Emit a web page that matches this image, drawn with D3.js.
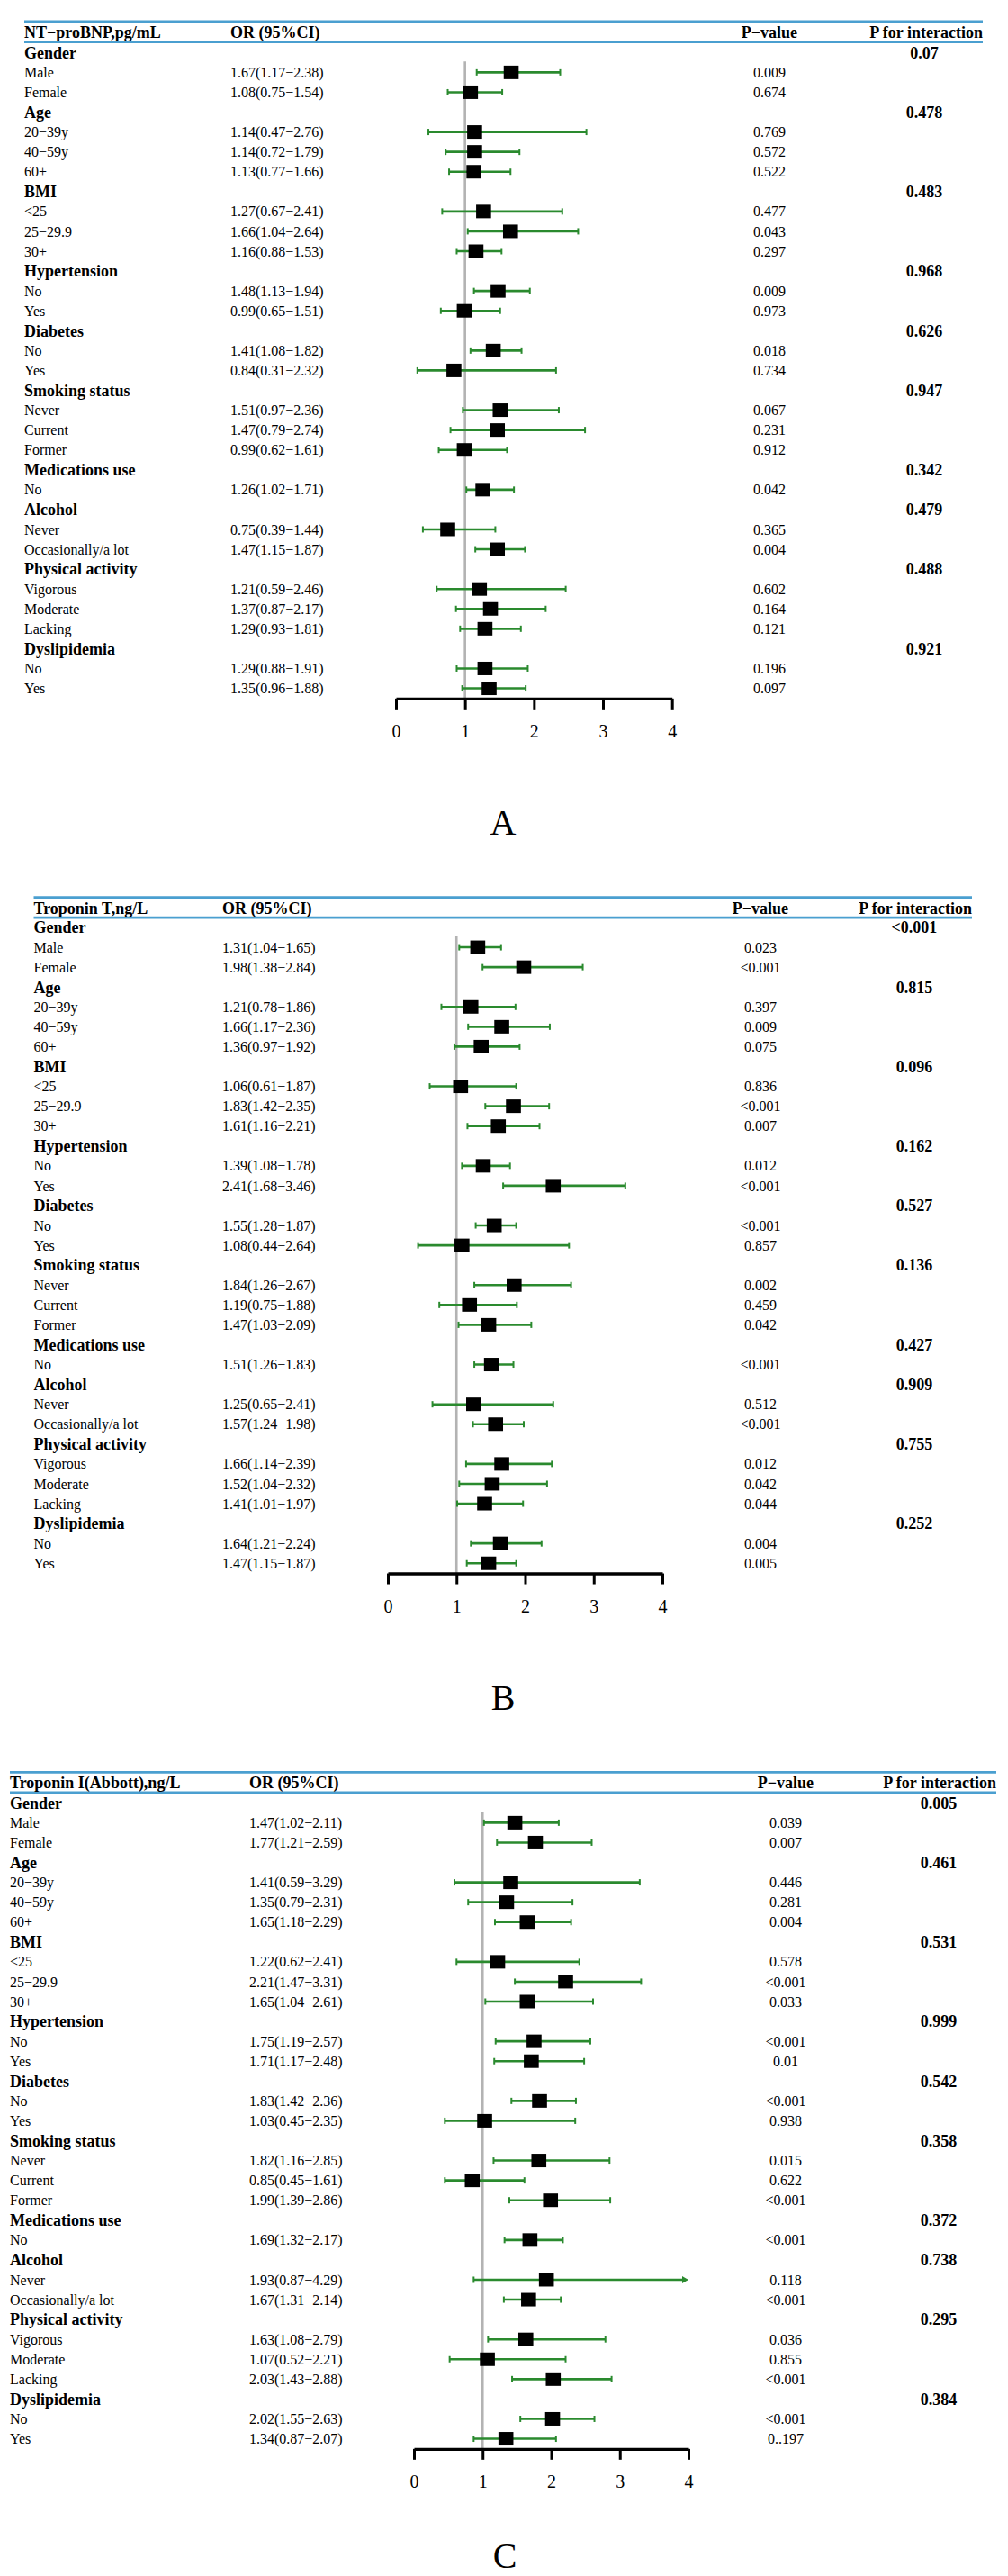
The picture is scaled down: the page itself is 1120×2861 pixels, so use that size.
<!DOCTYPE html>
<html>
<head>
<meta charset="utf-8">
<script src="https://cdn.jsdelivr.net/npm/d3@7"></script>
<style>
  html, body { margin: 0; padding: 0; background: #fff; }
  svg { display: block; }
  text { font-family: "Liberation Serif", "Times New Roman", serif; fill: #000; }
</style>
</head>
<body>
<svg id="chart" width="1120" height="2861"></svg>
<script>
// ---------------- DATA ----------------
const groups = ["Gender", "Age", "BMI", "Hypertension", "Diabetes", "Smoking status",
  "Medications use", "Alcohol", "Physical activity", "Dyslipidemia"];
const subgroups = [
  ["Male", "Female"],
  ["20\u221239y", "40\u221259y", "60+"],
  ["<25", "25\u221229.9", "30+"],
  ["No", "Yes"],
  ["No", "Yes"],
  ["Never", "Current", "Former"],
  ["No"],
  ["Never", "Occasionally/a lot"],
  ["Vigorous", "Moderate", "Lacking"],
  ["No", "Yes"]
];
const titles = ["NT\u2212proBNP,pg/mL", "Troponin T,ng/L", "Troponin I(Abbott),ng/L"];
const panelLetters = ["A", "B", "C"];
const axisTicks = [0, 1, 2, 3, 4];

// NT-proBNP
const ntOR   = [1.67,1.08, 1.14,1.14,1.13, 1.27,1.66,1.16, 1.48,0.99, 1.41,0.84, 1.51,1.47,0.99, 1.26, 0.75,1.47, 1.21,1.37,1.29, 1.29,1.35];
const ntLow  = [1.17,0.75, 0.47,0.72,0.77, 0.67,1.04,0.88, 1.13,0.65, 1.08,0.31, 0.97,0.79,0.62, 1.02, 0.39,1.15, 0.59,0.87,0.93, 0.88,0.96];
const ntHigh = [2.38,1.54, 2.76,1.79,1.66, 2.41,2.64,1.53, 1.94,1.51, 1.82,2.32, 2.36,2.74,1.61, 1.71, 1.44,1.87, 2.46,2.17,1.81, 1.91,1.88];
const ntP    = ["0.009","0.674","0.769","0.572","0.522","0.477","0.043","0.297","0.009","0.973","0.018","0.734","0.067","0.231","0.912","0.042","0.365","0.004","0.602","0.164","0.121","0.196","0.097"];
const ntPint = ["0.07","0.478","0.483","0.968","0.626","0.947","0.342","0.479","0.488","0.921"];

// Troponin T
const tntOR   = [1.31,1.98, 1.21,1.66,1.36, 1.06,1.83,1.61, 1.39,2.41, 1.55,1.08, 1.84,1.19,1.47, 1.51, 1.25,1.57, 1.66,1.52,1.41, 1.64,1.47];
const tntLow  = [1.04,1.38, 0.78,1.17,0.97, 0.61,1.42,1.16, 1.08,1.68, 1.28,0.44, 1.26,0.75,1.03, 1.26, 0.65,1.24, 1.14,1.04,1.01, 1.21,1.15];
const tntHigh = [1.65,2.84, 1.86,2.36,1.92, 1.87,2.35,2.21, 1.78,3.46, 1.87,2.64, 2.67,1.88,2.09, 1.83, 2.41,1.98, 2.39,2.32,1.97, 2.24,1.87];
const tntP    = ["0.023","<0.001","0.397","0.009","0.075","0.836","<0.001","0.007","0.012","<0.001","<0.001","0.857","0.002","0.459","0.042","<0.001","0.512","<0.001","0.012","0.042","0.044","0.004","0.005"];
const tntPint = ["<0.001","0.815","0.096","0.162","0.527","0.136","0.427","0.909","0.755","0.252"];

// Troponin I (Abbott)
const tniOR   = [1.47,1.77, 1.41,1.35,1.65, 1.22,2.21,1.65, 1.75,1.71, 1.83,1.03, 1.82,0.85,1.99, 1.69, 1.93,1.67, 1.63,1.07,2.03, 2.02,1.34];
const tniLow  = [1.02,1.21, 0.59,0.79,1.18, 0.62,1.47,1.04, 1.19,1.17, 1.42,0.45, 1.16,0.45,1.39, 1.32, 0.87,1.31, 1.08,0.52,1.43, 1.55,0.87];
const tniHigh = [2.11,2.59, 3.29,2.31,2.29, 2.41,3.31,2.61, 2.57,2.48, 2.36,2.35, 2.85,1.61,2.86, 2.17, 4.29,2.14, 2.79,2.21,2.88, 2.63,2.07];
const tniP    = ["0.039","0.007","0.446","0.281","0.004","0.578","<0.001","0.033","<0.001","0.01","<0.001","0.938","0.015","0.622","<0.001","<0.001","0.118","<0.001","0.036","0.855","<0.001","<0.001","0..197"];
const tniPint = ["0.005","0.461","0.531","0.999","0.542","0.358","0.372","0.738","0.295","0.384"];

// ---------------- LAYOUT (not data) ----------------
const layouts = [
  {top: 24,     left: 27,   right: 1092, orX: 256, x0: 440, x4: 746.7, pvX: 855, pintX: 1027, first: 58.3,   letterX: 559, letterY: 913},
  {top: 996.7,  left: 37.5, right: 1080, orX: 247, x0: 431, x4: 736,   pvX: 845, pintX: 1016, first: 1030,   letterX: 559, letterY: 1885},
  {top: 1968.3, left: 11,   right: 1107, orX: 277, x0: 460, x4: 765,   pvX: 873, pintX: 1043, first: 2002.3, letterX: 561, letterY: 2838}
];
const panelData = [
  {or: ntOR, lo: ntLow, hi: ntHigh, p: ntP, pint: ntPint},
  {or: tntOR, lo: tntLow, hi: tntHigh, p: tntP, pint: tntPint},
  {or: tniOR, lo: tniLow, hi: tniHigh, p: tniP, pint: tniPint}
];
const rowStep = 22.07;
const blue = "#4a9fd0";
const green = "#2a8a2e";
const fmt = d3.format(".2f");

const svg = d3.select("#chart");

panelData.forEach((pd, pi) => {
  const L = layouts[pi];
  const g = svg.append("g");

  // build rows
  const rows = [];
  let k = 0;
  groups.forEach((gr, gi) => {
    rows.push({type: "group", label: gr, pint: pd.pint[gi]});
    subgroups[gi].forEach(sg => {
      rows.push({type: "item", label: sg, or: pd.or[k], lo: pd.lo[k], hi: pd.hi[k], p: pd.p[k]});
      k++;
    });
  });

  const y = d3.scaleLinear().domain([0, rows.length - 1]).range([L.first, L.first + (rows.length - 1) * rowStep]);
  const x = d3.scaleLinear().domain([0, 4]).range([L.x0, L.x4]);
  const axisY = y(rows.length - 1) + 11.3;

  // header rules
  [L.top, L.top + 22.5].forEach(yy => {
    g.append("line").attr("x1", L.left).attr("x2", L.right).attr("y1", yy).attr("y2", yy)
      .attr("stroke", blue).attr("stroke-width", 2.8);
  });
  const hy = L.top + 11.5;
  const hdr = (txt, xx, anchor) => g.append("text").attr("x", xx).attr("y", hy).attr("dy", "0.35em")
      .attr("text-anchor", anchor).attr("font-size", 18).attr("font-weight", "bold").text(txt);
  hdr(titles[pi], L.left, "start");
  hdr("OR (95%CI)", L.orX, "start");
  hdr("P\u2212value", L.pvX, "middle");
  hdr("P for interaction", L.right, "end");

  // reference line at 1
  g.append("line").attr("x1", x(1)).attr("x2", x(1)).attr("y1", L.first + 10).attr("y2", axisY)
    .attr("stroke", "#b3b3b3").attr("stroke-width", 2.6);

  // text rows
  rows.forEach((r, i) => {
    const yy = y(i);
    if (r.type === "group") {
      g.append("text").attr("x", L.left).attr("y", yy).attr("dy", "0.35em")
        .attr("font-size", 18).attr("font-weight", "bold").text(r.label);
      g.append("text").attr("x", L.pintX).attr("y", yy).attr("dy", "0.35em").attr("text-anchor", "middle")
        .attr("font-size", 18).attr("font-weight", "bold").text(r.pint);
    } else {
      g.append("text").attr("x", L.left).attr("y", yy).attr("dy", "0.35em")
        .attr("font-size", 16).text(r.label);
      g.append("text").attr("x", L.orX).attr("y", yy).attr("dy", "0.35em")
        .attr("font-size", 16).text(fmt(r.or) + "(" + fmt(r.lo) + "\u2212" + fmt(r.hi) + ")");
      g.append("text").attr("x", L.pvX).attr("y", yy).attr("dy", "0.35em").attr("text-anchor", "middle")
        .attr("font-size", 16).text(r.p);
    }
  });

  // CI lines & boxes
  const items = rows.map((r, i) => Object.assign({i}, r)).filter(r => r.type === "item");
  const marks = g.append("g");
  items.forEach(r => {
    const yy = y(r.i);
    const hiC = Math.min(r.hi, 4);
    const clipped = r.hi > 4;
    marks.append("line").attr("x1", x(r.lo)).attr("x2", x(hiC) - (clipped ? 4 : 0)).attr("y1", yy).attr("y2", yy)
      .attr("stroke", green).attr("stroke-width", 2.6);
    marks.append("line").attr("x1", x(r.lo)).attr("x2", x(r.lo)).attr("y1", yy - 3.5).attr("y2", yy + 3.5)
      .attr("stroke", green).attr("stroke-width", 2);
    if (clipped) {
      const ex = x(hiC);
      marks.append("path").attr("d", `M${ex},${yy} L${ex - 7},${yy - 4} L${ex - 7},${yy + 4} Z`).attr("fill", green);
    } else {
      marks.append("line").attr("x1", x(hiC)).attr("x2", x(hiC)).attr("y1", yy - 3.5).attr("y2", yy + 3.5)
        .attr("stroke", green).attr("stroke-width", 2);
    }
    marks.append("rect").attr("x", x(r.or) - 8.3).attr("y", yy - 7.5).attr("width", 16.6).attr("height", 15)
      .attr("fill", "#000");
  });

  // axis
  const axis = d3.axisBottom(x).tickValues(axisTicks).tickSize(12).tickSizeOuter(0).tickFormat(d3.format("d"));
  const ag = g.append("g").attr("transform", `translate(0,${axisY})`).call(axis);
  ag.select(".domain").attr("stroke", "#000").attr("stroke-width", 3.4);
  ag.selectAll(".tick line").attr("stroke", "#000").attr("stroke-width", 3);
  ag.selectAll(".tick text").attr("y", 36).attr("dy", "0.35em")
    .style("font-family", "'Liberation Serif', 'Times New Roman', serif").style("font-size", "20px").attr("fill", "#000");

  // panel letter
  g.append("text").attr("x", L.letterX).attr("y", L.letterY).attr("dy", "0.35em").attr("text-anchor", "middle")
    .attr("font-size", 40).text(panelLetters[pi]);
});
</script>
</body>
</html>
